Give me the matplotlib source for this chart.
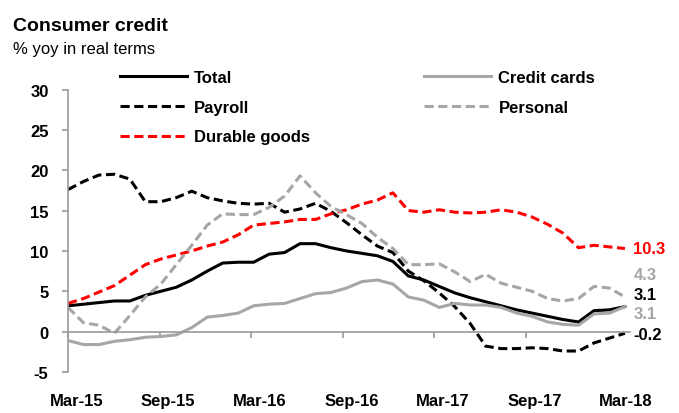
import numpy as np
import matplotlib
matplotlib.use("Agg")
import matplotlib.pyplot as plt

plt.rcParams['font.family'] = ['Liberation Sans', 'DejaVu Sans']

# ---- data (monthly, Mar-15 .. Mar-18) ----
months = np.arange(37)
total = [3.2, 3.4, 3.6, 3.8, 3.8, 4.5, 5.0, 5.5, 6.4, 7.5, 8.5, 8.6, 8.6,
         9.6, 9.8, 10.9, 10.9, 10.4, 10.0, 9.7, 9.4, 8.7, 6.9, 6.4, 5.6,
         4.8, 4.2, 3.7, 3.2, 2.7, 2.3, 1.9, 1.5, 1.2, 2.6, 2.7, 3.1]
credit_cards = [-1.1, -1.6, -1.6, -1.2, -1.0, -0.7, -0.6, -0.4, 0.5, 1.8, 2.0,
                2.3, 3.2, 3.4, 3.5, 4.1, 4.7, 4.85, 5.4, 6.2, 6.4, 5.9, 4.3,
                3.9, 3.0, 3.5, 3.3, 3.3, 3.0, 2.3, 1.9, 1.2, 0.9, 0.8, 2.2,
                2.3, 3.1]
payroll = [17.6, 18.6, 19.4, 19.5, 18.9, 16.1, 16.1, 16.6, 17.4, 16.6, 16.2,
           15.9, 15.8, 15.9, 14.8, 15.2, 15.9, 14.9, 13.5, 12.0, 10.6, 9.8,
           7.5, 6.3, 4.8, 3.1, 1.0, -1.8, -2.1, -2.1, -2.0, -2.1, -2.4, -2.4,
           -1.4, -0.8, -0.2]
personal = [3.0, 1.1, 0.8, -0.2, 2.0, 4.3, 5.9, 8.3, 10.7, 13.2, 14.6, 14.5,
            14.5, 15.4, 16.8, 19.3, 17.2, 15.5, 14.5, 13.4, 11.7, 10.3, 8.3,
            8.3, 8.4, 7.4, 6.2, 7.1, 6.0, 5.5, 5.0, 4.1, 3.8, 4.1, 5.6, 5.4,
            4.3]
durable = [3.5, 4.1, 4.9, 5.7, 7.0, 8.3, 9.0, 9.5, 10.0, 10.6, 11.1, 12.0,
           13.2, 13.4, 13.6, 13.9, 13.9, 14.6, 15.1, 15.8, 16.3, 17.2, 15.0,
           14.8, 15.1, 14.8, 14.7, 14.8, 15.1, 14.8, 14.2, 13.3, 12.2, 10.4,
           10.7, 10.5, 10.3]
x_labels = ['Mar-15', 'Sep-15', 'Mar-16', 'Sep-16', 'Mar-17', 'Sep-17', 'Mar-18']
end_values = ['10.3', '4.3', '3.1', '3.1', '-0.2']
end_colors = ['#FF0000', '#A6A6A6', 'black', '#A6A6A6', 'black']
end_ypos = [10.25, 7.1, 4.6, 2.2, -0.3]

GRAY = '#A6A6A6'
AX_GRAY = '#9A9A9A'

fig = plt.figure(figsize=(6.79, 4.14), dpi=100)
ax = fig.add_axes([68/679, 1-373/414, (630-68)/679, (373-90.5)/414])

lw = 2.2
dash = (3.0, 1.5)
l_total, = ax.plot(months, total, color='black', lw=lw, label='Total')
l_pay, = ax.plot(months, payroll, color='black', lw=lw, dashes=dash, label='Payroll')
l_dur, = ax.plot(months, durable, color='#FF0000', lw=lw, dashes=dash, label='Durable goods')
l_cc, = ax.plot(months, credit_cards, color=GRAY, lw=lw, label='Credit cards')
l_pers, = ax.plot(months, personal, color=GRAY, lw=lw, dashes=dash, label='Personal')

ax.set_xlim(0, (630-68)/15.47)
ax.set_ylim(-5, 30)

for s in ['top', 'right']:
    ax.spines[s].set_visible(False)
ax.spines['left'].set_color(AX_GRAY)
ax.spines['bottom'].set_color(AX_GRAY)
ax.spines['left'].set_linewidth(1.2)
ax.spines['bottom'].set_linewidth(1.2)
ax.spines['bottom'].set_position(('data', 0))

ax.set_yticks(np.arange(-5, 31, 5))
ax.set_yticklabels([str(v) for v in range(-5, 31, 5)], fontsize=12, fontweight='bold')
ax.tick_params(axis='y', direction='out', length=4.5, width=1.2, color=AX_GRAY, pad=9.5)

step = 5.92
ax.set_xticks(np.arange(6) * step)
ax.set_xticklabels([])
ax.set_xticks(np.arange(7) * step + 0.56, minor=True)
ax.set_xticklabels(x_labels, minor=True, fontsize=12, fontweight='bold')
ax.tick_params(axis='x', which='major', direction='out', length=4.5, width=1.2, color=AX_GRAY)
ax.tick_params(axis='x', which='minor', length=0, pad=44)

for txt, c, yv in zip(end_values, end_colors, end_ypos):
    ax.text(36.55, yv, txt, color=c, fontsize=12, fontweight='bold',
            va='center', ha='left', clip_on=False)

fig.text(13/679, 1-31/414, 'Consumer credit', fontsize=14, fontweight='bold', va='baseline')
fig.text(13/679, 1-54/414, '% yoy in real terms', fontsize=12, va='baseline')

leg = fig.legend(handles=[l_total, l_pay, l_dur, l_cc, l_pers], ncol=2,
                 loc='upper left', bbox_to_anchor=(120/679, 1-71/414),
                 frameon=False, borderpad=0, borderaxespad=0,
                 handlelength=4.0, handletextpad=0.45, columnspacing=6.85,
                 labelspacing=0.88, prop={'size': 12, 'weight': 'bold'})

fig.savefig('out.png', dpi=100)
